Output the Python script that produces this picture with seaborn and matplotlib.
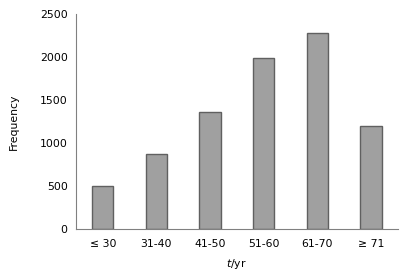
import numpy as np
import matplotlib.pyplot as plt
import seaborn as sns

age_groups = ["≤ 30", "31-40", "41-50", "51-60", "61-70", "≥ 71"]
frequency = [500, 870, 1365, 1985, 2280, 1200]
y_ticks = [0, 500, 1000, 1500, 2000, 2500]

sns.set_style("white")
plt.rcParams['font.family'] = ['DejaVu Sans']
plt.rcParams['text.color'] = 'black'
plt.rcParams['xtick.color'] = 'black'
plt.rcParams['ytick.color'] = 'black'
plt.rcParams['axes.labelcolor'] = 'black'

fig = plt.figure(figsize=(4.06, 2.78), dpi=100)
ax = fig.add_axes([0.187, 0.175, 0.793, 0.775])

sns.barplot(x=age_groups, y=frequency, color="#a0a0a0", width=0.4,
            edgecolor="#606060", linewidth=1.0, saturation=1, ax=ax)

ax.set_ylim(0, 2500)
ax.set_xlim(-0.5, len(age_groups) - 0.5)
ax.set_yticks(y_ticks)
ax.set_yticklabels([str(t) for t in y_ticks], fontsize=7.8)
ax.tick_params(axis='y', direction='in', length=4, color="#808080", width=0.8, pad=6)

# x ticks sit between the categories, labels stay under the bars
ax.set_xticks(np.arange(len(age_groups) + 1) - 0.5)
ax.set_xticklabels([])
ax.set_xticks(np.arange(len(age_groups)), minor=True)
ax.set_xticklabels(age_groups, minor=True, fontsize=7.8)
ax.tick_params(axis='x', which='major', direction='in', length=4, color="#808080", width=0.8)
ax.tick_params(axis='x', which='minor', length=0, pad=7)

ax.set_xlabel(r"$t$/yr", fontsize=7.8, labelpad=6)
ax.set_ylabel("Frequency", fontsize=7.8, labelpad=15)

for side in ["top", "right"]:
    ax.spines[side].set_visible(False)
for side in ["left", "bottom"]:
    ax.spines[side].set_color("#808080")
    ax.spines[side].set_linewidth(0.8)

fig.savefig("out.png", dpi=100)
plt.close()
